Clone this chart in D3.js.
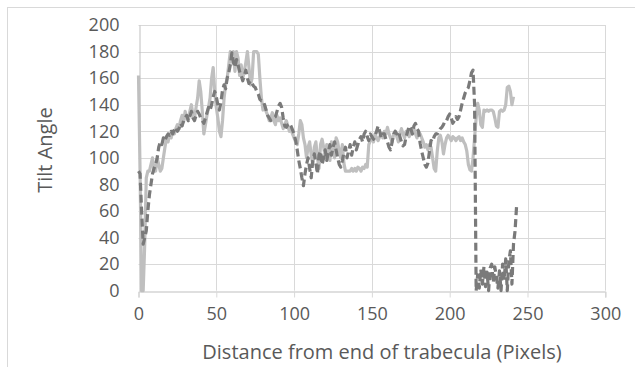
<!DOCTYPE html>
<html>
<head>
<meta charset="utf-8">
<script src="https://cdn.jsdelivr.net/npm/d3@7"></script>
<style>
  html, body { margin: 0; padding: 0; background: #ffffff; }
  svg { display: block; }
  text { font-family: "Open Sans", "Liberation Sans", sans-serif; fill: #595959; }
</style>
</head>
<body>
<svg id="chart" width="635" height="367"></svg>
<script>
// ---- data (x = index, distance in pixels) ----
const xTicks = [0, 50, 100, 150, 200, 250, 300];
const yTicks = [0, 20, 40, 60, 80, 100, 120, 140, 160, 180, 200];
const xTitle = "Distance from end of trabecula (Pixels)";
const yTitle = "Tilt Angle";

// light grey solid series, x = 0..241
const seriesSolid = [
  162, 90, 0, 0, 35, 85, 90, 90, 95, 100,
  90, 90, 100, 95, 90, 92, 100, 108, 115, 112,
  118, 115, 120, 118, 122, 125, 122, 128, 132, 127,
  135, 130, 128, 135, 140, 132, 130, 138, 145, 158,
  150, 135, 118, 125, 132, 138, 145, 160, 168, 150,
  138, 130, 120, 116, 128, 145, 155, 160, 170, 180,
  172, 180, 165, 180, 175, 162, 170, 160, 165, 172,
  180, 168, 155, 160, 180, 180, 180, 178, 160, 145,
  136, 140, 135, 132, 128, 130, 134, 128, 125, 132,
  128, 130, 126, 122, 125, 128, 124, 120, 122, 118,
  115, 112, 110, 118, 128, 125, 115, 110, 100, 108,
  112, 102, 95, 108, 112, 100, 92, 110, 114, 108,
  100, 110, 106, 98, 112, 108, 100, 115, 112, 105,
  100, 110, 96, 90, 90, 90, 90, 92, 90, 92,
  90, 93, 92, 90, 93, 92, 95, 93, 110, 113,
  115, 112, 118, 115, 113, 116, 118, 115, 120, 118,
  123, 118, 115, 112, 118, 120, 116, 112, 118, 122,
  118, 115, 120, 118, 116, 120, 118, 122, 118, 115,
  120, 118, 115, 112, 108, 110, 106, 110, 108, 100,
  92, 90, 105, 115, 117, 112, 103, 110, 115, 117,
  115, 113, 116, 115, 113, 115, 116, 113, 115, 112,
  110, 105, 95, 91, 90, 100, 115, 130, 141, 136,
  125, 123, 136, 135, 136, 135, 136, 136, 135, 130,
  124, 123, 135, 136, 135, 136, 140, 153, 154, 150,
  140, 146
];

// dark grey dashed series, x = 0..243
const seriesDashed = [
  90, 88, 60, 35, 40, 45, 60, 72, 80, 88,
  92, 95, 100, 108, 112, 110, 115, 113, 116, 118,
  117, 120, 118, 121, 123, 120, 122, 126, 124, 128,
  130, 132, 128, 131, 135, 130, 128, 132, 135, 133,
  130, 128, 126, 130, 134, 138, 136, 140, 146, 150,
  146, 140, 136, 142, 151, 155, 152, 160, 164, 170,
  179, 172, 168, 174, 170, 165, 162, 158, 162, 166,
  160, 156, 158, 156, 154, 153, 150, 148, 144, 143,
  143, 140, 136, 132, 130, 128, 129, 130, 131, 135,
  139, 141, 138, 130, 124, 123, 125, 126, 124, 121,
  118, 113, 106, 98, 92, 85, 79, 88, 95, 100,
  92, 85, 98, 103, 96, 88, 102, 105, 95, 100,
  106, 98, 104, 110, 102, 108, 112, 106, 100, 95,
  93, 98, 104, 108, 100, 105, 110, 102, 108, 112,
  106, 110, 114, 116, 112, 118, 120, 116, 113, 118,
  116, 114, 116, 120, 124, 120, 115, 118, 118, 114,
  112, 108, 106, 112, 118, 120, 118, 120, 116, 112,
  109, 110, 116, 120, 124, 122, 118, 124, 126, 122,
  120, 111, 105, 100, 95, 93, 96, 105, 113, 112,
  116, 118, 118, 120, 122, 123, 125, 128, 128, 131,
  133, 130, 126, 128, 131, 129, 131, 136, 141, 145,
  149, 151, 153, 158, 164, 166, 140, 0, 12, 2,
  16, 5, 18, 3, 14, 0, 17, 20, 6, 18,
  10, 2, 15, 0, 20, 8, 24, 0, 22, 30,
  5, 35, 45, 64
];

// ---- layout ----
const svg = d3.select("#chart");
const plot = { left: 138.5, right: 605.3, top: 25, bottom: 290.7 };

const x = d3.scaleLinear().domain([0, 300]).range([plot.left, plot.right]);
const y = d3.scaleLinear().domain([0, 200]).range([plot.bottom, plot.top]);

// outer chart border (extends past the window on right/bottom)
svg.append("rect")
  .attr("x", 7.5).attr("y", 7.5)
  .attr("width", 700).attr("height", 400)
  .attr("fill", "none").attr("stroke", "#d9d9d9").attr("stroke-width", 1);

// gridlines
svg.append("g")
  .selectAll("line.h")
  .data(yTicks.filter(d => d > 0))
  .join("line")
  .attr("x1", plot.left).attr("x2", plot.right)
  .attr("y1", d => Math.round(y(d)) + 0.5).attr("y2", d => Math.round(y(d)) + 0.5)
  .attr("stroke", "#d9d9d9").attr("stroke-width", 1);

svg.append("g")
  .selectAll("line.v")
  .data(xTicks.filter(d => d > 0))
  .join("line")
  .attr("x1", d => Math.round(x(d)) + 0.5).attr("x2", d => Math.round(x(d)) + 0.5)
  .attr("y1", plot.top).attr("y2", plot.bottom)
  .attr("stroke", "#d9d9d9").attr("stroke-width", 1);

// x axis
const xAxis = d3.axisBottom(x).tickValues(xTicks).tickSize(6).tickPadding(10)
  .tickFormat(d3.format("d"));
const gx = svg.append("g")
  .attr("transform", `translate(0,${Math.round(plot.bottom) + 0.5})`)
  .call(xAxis);
gx.select(".domain").attr("stroke", "#bfbfbf");
gx.selectAll(".tick line").attr("stroke", "#d9d9d9");
gx.selectAll(".tick text")
  .attr("fill", "#595959").style("font-size", "18px")
  .style("font-family", '"Open Sans", sans-serif');

// y axis
const yAxis = d3.axisLeft(y).tickValues(yTicks).tickSize(0).tickPadding(20)
  .tickFormat(d3.format("d"));
const gy = svg.append("g")
  .attr("transform", `translate(${Math.round(plot.left) + 0.5},0)`)
  .call(yAxis);
gy.select(".domain").attr("stroke", "#bfbfbf");
gy.selectAll(".tick text")
  .attr("fill", "#595959").style("font-size", "18px")
  .style("font-family", '"Open Sans", sans-serif');

// series
const line = d3.line().x((d, i) => x(i)).y(d => y(d));

svg.append("path")
  .datum(seriesSolid)
  .attr("d", line)
  .attr("fill", "none")
  .attr("stroke", "#bfbfbf")
  .attr("stroke-width", 3.2)
  .attr("stroke-linejoin", "round");

svg.append("path")
  .datum(seriesDashed)
  .attr("d", line)
  .attr("fill", "none")
  .attr("stroke", "#7a7a7a")
  .attr("stroke-width", 3.2)
  .attr("stroke-dasharray", "8,4")
  .attr("stroke-linejoin", "round");

// axis titles
svg.append("text")
  .attr("x", 382).attr("y", 359)
  .attr("text-anchor", "middle")
  .style("font-size", "20px")
  .text(xTitle);

svg.append("text")
  .attr("transform", "translate(52,150) rotate(-90)")
  .attr("text-anchor", "middle")
  .style("font-size", "20px")
  .text(yTitle);
</script>
</body>
</html>
